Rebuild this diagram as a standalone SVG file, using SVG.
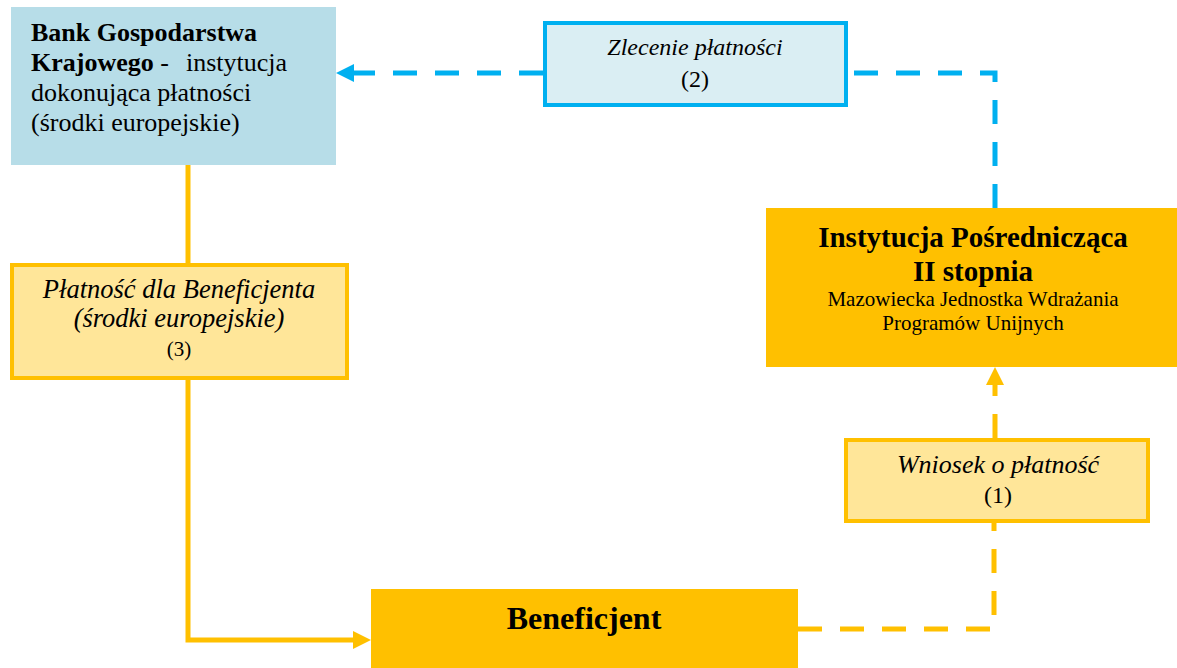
<svg xmlns="http://www.w3.org/2000/svg" width="1177" height="668" viewBox="0 0 1177 668">
<defs>
<style>
text{font-family:'Liberation Serif',serif;fill:#000}
.b{font-weight:bold}
.i{font-style:italic}
.c{text-anchor:middle}
.blue{fill:none;stroke:#00B0F0;stroke-width:5;stroke-dasharray:24 18}
.ys{fill:none;stroke:#FFC000;stroke-width:5}
.yd{fill:none;stroke:#FFC000;stroke-width:5;stroke-dasharray:24 18}
.lbl{fill:#FFE699;stroke:#FFC000;stroke-width:4}
</style>
<marker id="ab" markerUnits="userSpaceOnUse" markerWidth="18" markerHeight="18" refX="0" refY="9" orient="auto" overflow="visible">
<path d="M0,0 L18,9 L0,18 Z" fill="#00B0F0"/>
</marker>
<marker id="ay" markerUnits="userSpaceOnUse" markerWidth="18" markerHeight="18" refX="0" refY="9" orient="auto" overflow="visible">
<path d="M0,0 L18,9 L0,18 Z" fill="#FFC000"/>
</marker>
</defs>
<rect width="1177" height="668" fill="#fff"/>

<g id="connectors">
<path class="blue" d="M995,208 V73 H848"/>
<path class="blue" d="M543,73 H354" marker-end="url(#ab)"/>
<path class="ys" d="M188,165 V265"/>
<path class="ys" d="M188,378 V640 H353" marker-end="url(#ay)"/>
<path class="yd" d="M798,629 H994 V523"/>
<path class="yd" d="M995,438 V385" marker-end="url(#ay)"/>
</g>

<g id="bank" font-family="Liberation Serif, serif">
<rect x="11" y="7" width="325" height="158" fill="#B7DDE8"/>
<text x="31" y="41" font-size="26" class="b">Bank Gospodarstwa</text>
<text x="31" y="71" font-size="26"><tspan class="b">Krajowego</tspan><tspan> -</tspan><tspan x="186">instytucja</tspan></text>
<text x="31" y="101" font-size="26">dokonująca płatności</text>
<text x="31" y="131" font-size="26">(środki europejskie)</text>
</g>

<g id="zlecenie" font-family="Liberation Serif, serif">
<rect x="545" y="23" width="301" height="82" fill="#DAEEF3" stroke="#00B0F0" stroke-width="4"/>
<text x="695" y="55" font-size="24" class="i c">Zlecenie płatności</text>
<text x="695" y="87" font-size="24" class="c">(2)</text>
</g>

<g id="instytucja" font-family="Liberation Serif, serif">
<rect x="766" y="208" width="411" height="159" fill="#FFC000"/>
<text x="973" y="247" font-size="29" class="b c">Instytucja Pośrednicząca</text>
<text x="973" y="281" font-size="29" class="b c">II stopnia</text>
<text x="973" y="306" font-size="21" class="c">Mazowiecka Jednostka Wdrażania</text>
<text x="973" y="330" font-size="21" class="c">Programów Unijnych</text>
</g>

<g id="platnosc" font-family="Liberation Serif, serif">
<rect class="lbl" x="12" y="265" width="335" height="113"/>
<text x="179" y="298" font-size="26.5" class="i c">Płatność dla Beneficjenta</text>
<text x="179" y="327" font-size="26.5" class="i c">(środki europejskie)</text>
<text x="179" y="356" font-size="21" class="c">(3)</text>
</g>

<g id="wniosek" font-family="Liberation Serif, serif">
<rect class="lbl" x="846" y="440" width="302" height="81"/>
<text x="998" y="473" font-size="26" class="i c">Wniosek o płatność</text>
<text x="998" y="503" font-size="24" class="c">(1)</text>
</g>

<g id="beneficjent" font-family="Liberation Serif, serif">
<rect x="371" y="589" width="427" height="79" fill="#FFC000"/>
<text x="584" y="629" font-size="32" class="b c">Beneficjent</text>
</g>
</svg>
